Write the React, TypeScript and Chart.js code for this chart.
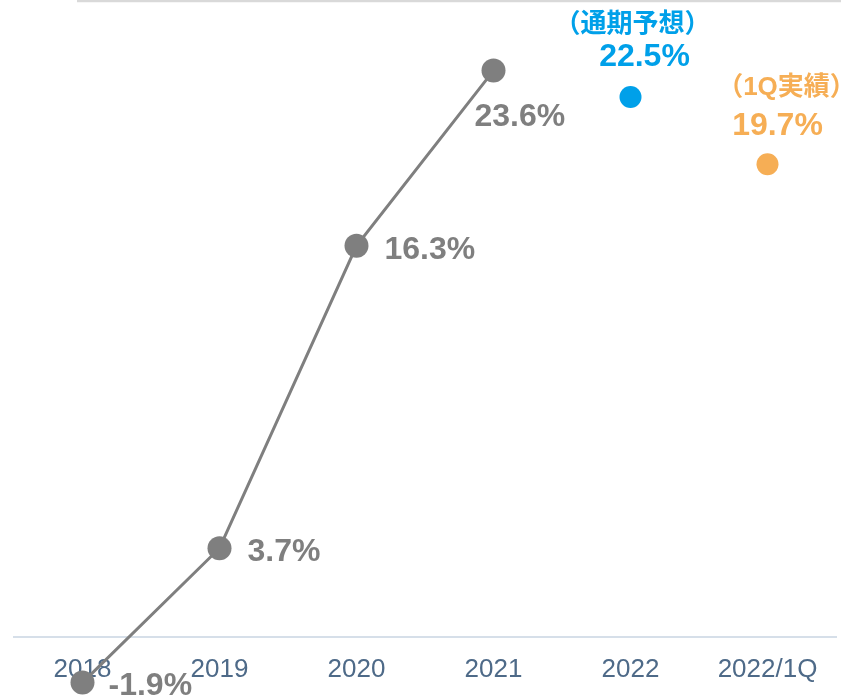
import React, { useEffect, useRef } from "react";
import { Chart, registerables } from "chart.js";

Chart.register(...registerables);

const categories = ["2018", "2019", "2020", "2021", "2022", "2022/1Q"];
const actualValues = [-1.9, 3.7, 16.3, 23.6, null, null];
const forecastValues = [null, null, null, null, 22.5, null];
const quarterValues = [null, null, null, null, null, 19.7];
const forecastCaption = "（通期予想）";
const quarterCaption = "（1Q実績）";

const GRAY = "#7f7f7f";
const BLUE = "#00a0e9";
const ORANGE = "#f6ae55";
const FONT = "'Liberation Sans', Arial, 'Noto Sans CJK JP', sans-serif";

const labelPlugin = {
  id: "valueLabels",
  afterDatasetsDraw(chart: any) {
    const ctx = chart.ctx;
    ctx.save();
    // draw points that fall outside the chart area (Chart.js skips them)
    chart.data.datasets.forEach((ds: any, di: number) => {
      const meta = chart.getDatasetMeta(di);
      meta.data.forEach((pt: any, i: number) => {
        if (ds.data[i] == null) return;
        const a = chart.chartArea;
        if (pt.y <= a.bottom + 1 && pt.y >= a.top - 1) return;
        ctx.fillStyle = ds.backgroundColor;
        ctx.beginPath();
        ctx.arc(pt.x, pt.y, pt.options.radius, 0, Math.PI * 2);
        ctx.fill();
      });
    });
    ctx.textBaseline = "middle";
    ctx.textAlign = "left";
    ctx.font = `bold 32px ${FONT}`;
    const m0 = chart.getDatasetMeta(0);
    m0.data.forEach((pt: any, i: number) => {
      const v = actualValues[i];
      if (v == null) return;
      ctx.fillStyle = GRAY;
      const txt = `${v.toFixed(1)}%`;
      if (i === 3) {
        ctx.fillText(txt, pt.x - 19, pt.y + 47);
      } else if (i === 0) {
        ctx.fillText(txt, pt.x + 26, pt.y + 4);
      } else {
        ctx.fillText(txt, pt.x + 28, pt.y + 4);
      }
    });
    ctx.textAlign = "center";
    const m1 = chart.getDatasetMeta(1);
    m1.data.forEach((pt: any, i: number) => {
      const v = forecastValues[i];
      if (v == null) return;
      ctx.fillStyle = BLUE;
      ctx.font = `bold 32px ${FONT}`;
      ctx.fillText(`${v.toFixed(1)}%`, pt.x + 14, pt.y - 40);
      ctx.font = `bold 26px ${FONT}`;
      ctx.fillText(forecastCaption, pt.x + 2, pt.y - 72);
    });
    const m2 = chart.getDatasetMeta(2);
    m2.data.forEach((pt: any, i: number) => {
      const v = quarterValues[i];
      if (v == null) return;
      ctx.fillStyle = ORANGE;
      ctx.font = `bold 32px ${FONT}`;
      ctx.fillText(`${v.toFixed(1)}%`, pt.x + 10, pt.y - 38);
      ctx.font = `bold 26px ${FONT}`;
      ctx.fillText(quarterCaption, pt.x + 19, pt.y - 76);
    });
    ctx.restore();
  },
};

const topLinePlugin = {
  id: "topLine",
  beforeDatasetsDraw(chart: any) {
    const ctx = chart.ctx;
    const top = chart.chartArea.top;
    ctx.save();
    ctx.strokeStyle = "#d9d9d9";
    ctx.lineWidth = 2.5;
    ctx.beginPath();
    ctx.moveTo(77, top);
    ctx.lineTo(chart.width, top);
    ctx.stroke();
    ctx.restore();
  },
};

export default function App() {
  const ref = useRef<HTMLCanvasElement>(null);
  useEffect(() => {
    document.body.style.margin = "0";
    const chart = new Chart(ref.current!, {
      type: "line",
      data: {
        labels: categories,
        datasets: [
          {
            data: actualValues,
            borderColor: GRAY,
            backgroundColor: GRAY,
            borderWidth: 3,
            pointRadius: 12,
            pointHoverRadius: 12,
            pointBorderWidth: 0,
            clip: false as any,
          },
          {
            data: forecastValues,
            borderColor: BLUE,
            backgroundColor: BLUE,
            showLine: false,
            pointRadius: 11,
            pointBorderWidth: 0,
            clip: false as any,
          },
          {
            data: quarterValues,
            borderColor: ORANGE,
            backgroundColor: ORANGE,
            showLine: false,
            pointRadius: 11,
            pointBorderWidth: 0,
            clip: false as any,
          },
        ],
      },
      options: {
        animation: false,
        responsive: false,
        layout: { autoPadding: false, padding: { left: 14, right: 5, top: 1, bottom: 0 } },
        plugins: { legend: { display: false }, tooltip: { enabled: false } },
        scales: {
          x: {
            offset: true,
            grid: { display: false, drawTicks: false },
            border: { display: true, color: "#d6dfe9", width: 2 },
            ticks: {
              color: "#4e6a88",
              font: { family: FONT, size: 26 },
              padding: 17,
              maxRotation: 0,
            },
            afterFit: (axis: any) => {
              axis.height = 58;
            },
          },
          y: {
            display: false,
            min: 0,
            max: 26.5,
          },
        },
      },
      plugins: [labelPlugin, topLinePlugin],
    });
    return () => chart.destroy();
  }, []);
  return (
    <div style={{ width: 841, height: 695 }}>
      <canvas ref={ref} width={841} height={695} style={{ display: "block" }} />
    </div>
  );
}
